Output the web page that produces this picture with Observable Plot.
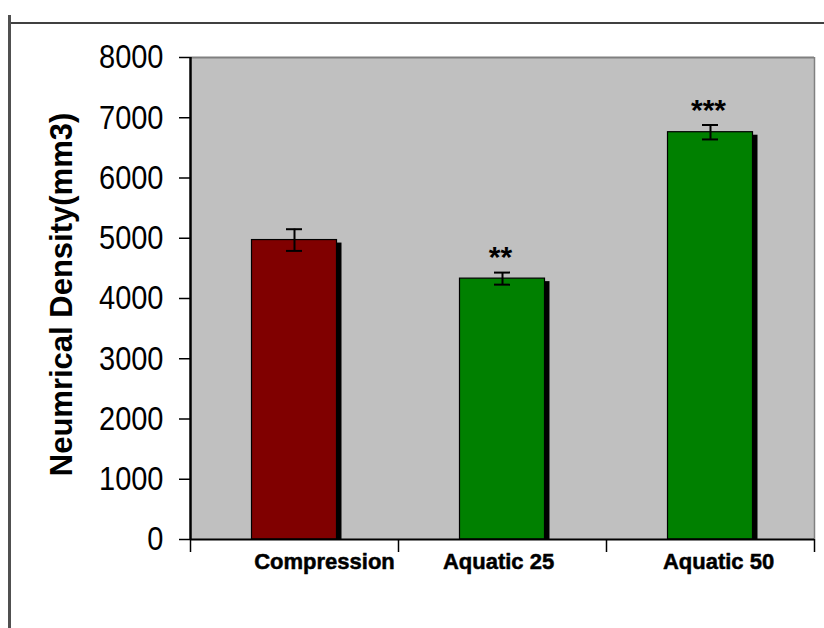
<!DOCTYPE html>
<html>
<head>
<meta charset="utf-8">
<script src="https://cdn.jsdelivr.net/npm/d3@7"></script>
<script src="https://cdn.jsdelivr.net/npm/@observablehq/plot@0.6"></script>
<style>
  html, body { margin: 0; padding: 0; background: #fff; }
  #wrap { position: relative; width: 824px; height: 628px; overflow: hidden; }
  #chart { position: absolute; left: 0; top: 0; }
  .hline { position: absolute; left: 8px; top: 22px; width: 816px; height: 2px; background: #404040; }
  .vline { position: absolute; left: 8px; top: 15px; width: 3px; height: 613px; background: #505050; }
</style>
</head>
<body>
<div id="wrap">
  <div id="chart"></div>
  <div class="hline"></div>
  <div class="vline"></div>
</div>
<script>
// ---- data ----
const categories = ["Compression", "Aquatic 25", "Aquatic 50"];
const values = [4970, 4330, 6760];
const errors = [180, 100, 120];
const stars = ["", "**", "***"];
const yTicks = [0, 1000, 2000, 3000, 4000, 5000, 6000, 7000, 8000];
const yLabel = "Neumrical Density(mm3)";

// ---- styles ----
const barColors = ["#800000", "#008000", "#008000"];
const labelNudge = [30, -4, 8];

const data = categories.map((c, i) => ({
  cat: c, i, value: values[i], err: errors[i], star: stars[i]
}));

const barInset = 61.5;
const capInset = 96;

const chart = Plot.plot({
  width: 824,
  height: 628,
  marginLeft: 190,
  marginRight: 10,
  marginTop: 57,
  marginBottom: 89,
  style: { background: "white", fontFamily: "'Liberation Sans', Arial, sans-serif", color: "black" },
  x: { domain: [0, categories.length], axis: null },
  y: { domain: [0, 8000], axis: null },
  color: { domain: categories, range: barColors },
  marks: [
    Plot.frame({ fill: "#c0c0c0", stroke: null }),
    Plot.ruleY([8000], { stroke: "#808080", strokeWidth: 2 }),
    Plot.ruleX([categories.length], { stroke: "#808080", strokeWidth: 1.5 }),
    // shadow
    Plot.rectY(data, {
      x1: d => d.i, x2: d => d.i + 1, y1: 0, y2: "value",
      fill: "black", insetLeft: barInset, insetRight: barInset, insetBottom: 3, dx: 5, dy: 3
    }),
    // bars
    Plot.rectY(data, {
      x1: d => d.i, x2: d => d.i + 1, y1: 0, y2: "value",
      fill: "cat", stroke: "black", strokeWidth: 1.2, insetLeft: barInset, insetRight: barInset
    }),
    // error bars
    Plot.ruleX(data, { x: d => d.i + 0.5, y1: d => d.value - d.err, y2: d => d.value + d.err, stroke: "black", strokeWidth: 2 }),
    Plot.ruleY(data, { x1: d => d.i, x2: d => d.i + 1, y: d => d.value + d.err, insetLeft: capInset, insetRight: capInset, stroke: "black", strokeWidth: 2 }),
    Plot.ruleY(data, { x1: d => d.i, x2: d => d.i + 1, y: d => d.value - d.err, insetLeft: capInset, insetRight: capInset, stroke: "black", strokeWidth: 2 }),
    // significance stars
    Plot.text(data.filter(d => d.star), {
      x: d => d.i + 0.5, y: d => d.value + d.err, text: "star",
      dy: -15, dx: -2, fontSize: 30, fontWeight: "bold", lineAnchor: "middle", fill: "black"
    }),
    // y axis
    Plot.axisY({
      ticks: yTicks, tickSize: 11, tickPadding: 16, tickFormat: d3.format("d"),
      fontSize: 29, strokeWidth: 1.5, label: null,
      fontFamily: "'Liberation Sans', Arial, sans-serif"
    }),
    Plot.ruleX([0], { stroke: "black", strokeWidth: 2.5 }),
    Plot.ruleY([0], { stroke: "black", strokeWidth: 2 }),
    // x axis boundary ticks
    Plot.axisX({ ticks: d3.range(categories.length + 1), tickSize: 13, tickFormat: () => "", strokeWidth: 1.5, label: null }),
    // x labels
    ...categories.map((c, i) => Plot.text([c], {
      x: () => i + 0.5, frameAnchor: "bottom", dy: 22, dx: labelNudge[i],
      text: d => d, fontSize: 22, fontWeight: "bold", lineAnchor: "middle",
      fontFamily: "'Liberation Sans', Arial, sans-serif", fill: "black",
      stroke: "black", strokeWidth: 0.5
    })),
    // y label
    Plot.text([yLabel], {
      frameAnchor: "left", rotate: -90, dx: -128, dy: -4, text: d => d,
      fontSize: 31, fontWeight: "bold", lineAnchor: "middle", textAnchor: "middle", fill: "black"
    })
  ]
});

// tick labels in the reference are vertically stretched digits
chart.querySelectorAll('g[aria-label="y-axis tick label"] text').forEach(t => {
  const tr = t.getAttribute("transform") || "";
  t.setAttribute("transform", tr + " scale(1,1.16)");
});

document.getElementById("chart").appendChild(chart);
</script>
</body>
</html>
